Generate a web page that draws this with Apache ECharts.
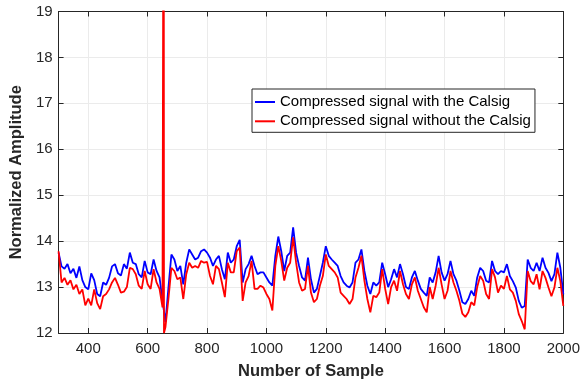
<!DOCTYPE html>
<html><head><meta charset="utf-8">
<script src="https://cdn.jsdelivr.net/npm/echarts@6/dist/echarts.min.js"></script>
<style>html,body{margin:0;padding:0;background:#fff}#c{width:583px;height:385px}</style>
</head><body><div id="c"></div>
<script>
const sampleStart = 300, sampleStep = 10;
const blueVals = [13.75,13.45,13.4,13.5,13.3,13.4,13.2,13.45,13.15,13.0,
12.95,13.3,13.15,12.85,12.8,13.1,13.05,13.2,13.45,13.5,
13.3,13.25,13.5,13.4,13.75,13.53,13.5,13.28,13.21,13.57,
13.32,13.28,13.6,13.35,13.21,12.7,12.24,12.99,13.71,13.6,
13.35,13.46,13.06,13.53,13.82,13.71,13.6,13.64,13.78,13.82,
13.75,13.64,13.46,13.6,13.68,13.39,13.17,13.75,13.53,13.6,
13.89,14.03,13.1,13.39,13.5,13.68,13.46,13.28,13.32,13.32,
13.21,13.1,13.03,13.68,14.1,13.78,13.35,13.68,13.75,14.3,
13.75,13.46,13.21,13.14,13.64,13.17,12.88,12.96,13.24,13.53,
13.89,13.68,13.6,13.53,13.46,13.24,13.1,13.03,12.99,13.1,
13.53,13.6,13.82,13.35,13.03,12.85,13.1,13.03,13.1,13.53,
13.28,13.0,13.17,13.39,13.21,13.5,13.28,13.0,12.96,13.21,
13.35,13.14,12.96,12.88,12.81,13.21,13.1,13.32,13.68,13.32,
13.14,13.28,13.57,13.28,13.14,12.92,12.67,12.63,12.74,12.92,
12.81,13.21,13.42,13.35,13.14,13.1,13.57,13.35,13.28,13.35,
13.32,13.5,13.24,13.13,12.99,12.7,12.55,12.59,13.6,13.42,
13.35,13.53,13.35,13.64,13.42,13.31,13.13,13.28,13.75,13.42,
12.84];
const redVals = [13.78,13.1,13.2,13.05,13.15,12.95,13.05,12.85,12.95,12.6,
12.75,12.6,12.95,12.65,12.52,12.8,12.85,12.95,13.1,13.2,
13.05,12.88,12.9,13.0,13.42,13.39,13.28,13.03,12.96,13.35,
13.06,12.96,13.39,13.1,12.96,12.56,12.13,12.74,13.42,13.35,
13.17,13.21,12.74,13.28,13.53,13.42,13.46,13.42,13.57,13.53,
13.55,13.24,13.06,13.46,13.39,13.1,12.78,13.53,13.32,13.32,
13.78,13.86,12.7,13.1,13.24,13.57,12.96,12.96,13.03,12.99,
12.85,12.74,12.49,13.46,13.89,13.57,13.14,13.42,13.53,14.08,
13.53,13.1,12.92,12.96,13.46,12.88,12.67,12.74,13.03,13.24,
13.71,13.46,13.39,13.32,13.21,12.88,12.81,12.74,12.63,12.74,
13.21,13.42,13.68,13.14,12.74,12.45,12.81,12.78,12.88,13.39,
12.96,12.63,13.0,13.14,12.92,13.35,13.06,12.85,12.74,13.06,
13.21,12.92,12.74,12.56,12.45,13.0,12.74,13.03,13.42,13.06,
12.74,12.92,13.35,13.1,12.92,12.7,12.42,12.35,12.45,12.67,
12.6,13.0,13.24,13.14,12.85,12.74,13.39,13.21,12.88,13.03,
12.96,13.24,12.95,12.88,12.7,12.41,12.26,12.08,13.35,13.13,
13.06,13.28,12.95,13.35,13.2,12.99,12.8,12.99,13.42,13.13,
12.59];
const redSpikeX = [654, 655];
const redSpikeY = [25, 12.0];
const xTickValues = [400,600,800,1000,1200,1400,1600,1800,2000];
const seriesNames = ['Compressed signal with the Calsig','Compressed signal without the Calsig'];

const samples = blueVals.map((v,i)=>sampleStart + i*sampleStep);
const blueData = samples.map((x,i)=>[x, blueVals[i]]);
const redData = samples.map((x,i)=>[x, redVals[i]]);
redSpikeX.forEach((x,i)=>redData.push([x, redSpikeY[i]]));
redData.sort((a,b)=>a[0]-b[0]);

const axisCol = '#262626';
const font = 'Liberation Sans, Arial, sans-serif';
const chart = echarts.init(document.getElementById('c'), null, {renderer:'canvas'});
const xBase = {type:'value', min:300, max:2000,
  axisLine:{show:true, onZero:false, lineStyle:{color:axisCol, width:1}},
  axisTick:{show:true, inside:true, length:5, customValues:xTickValues, lineStyle:{color:axisCol}},
  splitLine:{show:false}};
const yBase = {type:'value', min:12, max:19, interval:1,
  axisLine:{show:true, onZero:false, lineStyle:{color:axisCol, width:1}},
  axisTick:{show:true, inside:true, length:5, lineStyle:{color:axisCol}},
  splitLine:{show:false}};
chart.setOption({
  animation:false,
  backgroundColor:'#fff',
  grid:{left:50, right:15, top:11.5, bottom:49, containLabel:false},
  legend:{
    data:seriesNames, orient:'vertical', left:252, top:89,
    icon:'rect', itemWidth:20, itemHeight:2, itemGap:3.3,
    padding:[5,4,3,3],
    borderColor:axisCol, borderWidth:1, backgroundColor:'#fff',
    textStyle:{fontFamily:font, fontSize:15, color:'#000', lineHeight:16}
  },
  xAxis:[
    Object.assign({}, xBase, {position:'bottom',
      name:'Number of Sample', nameLocation:'middle', nameGap:30,
      nameTextStyle:{fontFamily:font, fontSize:16.5, fontWeight:'bold', color:axisCol},
      axisLabel:{show:true, customValues:xTickValues, margin:8, fontFamily:font, fontSize:15, color:axisCol,
        formatter:(v)=>String(v)},
      splitLine:{show:true, lineStyle:{color:'#ebebeb', width:1}}}),
    Object.assign({}, xBase, {position:'top', axisLabel:{show:false}})
  ],
  yAxis:[
    Object.assign({}, yBase, {position:'left',
      name:'Normalized Amplitude', nameLocation:'middle', nameGap:28,
      nameTextStyle:{fontFamily:font, fontSize:16.5, fontWeight:'bold', color:axisCol},
      axisLabel:{show:true, margin:6, fontFamily:font, fontSize:15, color:axisCol, formatter:(v)=>String(v)},
      splitLine:{show:true, lineStyle:{color:'#ebebeb', width:1}}}),
    Object.assign({}, yBase, {position:'right', axisLabel:{show:false}})
  ],
  series:[
    {name:seriesNames[0], type:'line', data:blueData, xAxisIndex:0, yAxisIndex:0,
     showSymbol:false, symbol:'none', clip:true, lineStyle:{color:'#0000ff', width:1.8}, itemStyle:{color:'#0000ff'}},
    {name:seriesNames[1], type:'line', data:redData, xAxisIndex:0, yAxisIndex:0,
     showSymbol:false, symbol:'none', clip:true, lineStyle:{color:'#ff0000', width:1.8}, itemStyle:{color:'#ff0000'}}
  ]
});
</script></body></html>
